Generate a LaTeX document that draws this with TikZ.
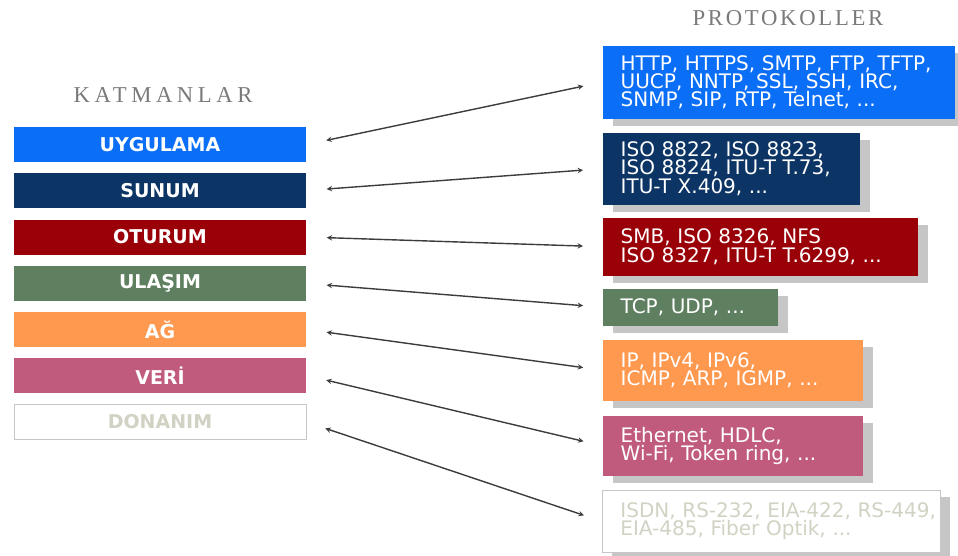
\documentclass[tikz,border=0pt]{standalone}
\usepackage{fontspec}
\setmainfont{Liberation Serif}
\setsansfont{DejaVu Sans}
\usetikzlibrary{shadows}
\definecolor{cuyg}{HTML}{0A6EF7}
\definecolor{csun}{HTML}{0C3565}
\definecolor{cotu}{HTML}{9A0008}
\definecolor{cula}{HTML}{5E8060}
\definecolor{cag}{HTML}{FF9950}
\definecolor{cver}{HTML}{C15B7E}
\definecolor{cdon}{HTML}{D2D2C4}
\definecolor{carrow}{HTML}{3C3C3C}
\definecolor{cshadow}{HTML}{C6C6C6}
\definecolor{ctitle}{HTML}{7A7A7A}
\tikzset{
  layer/.style={minimum width=292pt, minimum height=35pt, inner sep=0pt,
    text=white, font=\sffamily\bfseries\fontsize{19}{21}\selectfont},
  proto/.style={anchor=north west, inner xsep=18pt, inner ysep=0pt,
    text=white, align=left, font=\sffamily\fontsize{20}{18.3}\selectfont,
    drop shadow={shadow xshift=10pt, shadow yshift=-7pt, opacity=1, fill=cshadow}},
  heading/.style={text=ctitle, font=\fontsize{22.7}{24}\selectfont}
}
\begin{document}
\begin{tikzpicture}[x=1pt, y=-1pt, <->, >=stealth, line width=1.4pt]
\useasboundingbox (0,0) rectangle (958,556);
\node[heading] (katman) at (163,95) {\addfontfeatures{LetterSpace=20}KATMANLAR};
\node[heading] (protok) at (788,18) {\addfontfeatures{LetterSpace=12}PROTOKOLLER};
% katmanlar
\node[layer, fill=cuyg] (L1) at (160,144.5) {UYGULAMA};
\node[layer, fill=csun] (L2) at (160,190.5) {SUNUM};
\node[layer, fill=cotu] (L3) at (160,237) {OTURUM};
\node[layer, fill=cula] (L4) at (160,283.5) {ULAŞIM};
\node[layer, fill=cag] (L5) at (160,329.5) {AĞ};
\node[layer, fill=cver] (L6) at (160,375.5) {VERİ};
\node[layer, fill=white, draw=cshadow, line width=0.8pt, text=cdon] (L7) at (160,422) {DONANIM};
% protokoller
\node[proto, fill=cuyg, text width=316pt, minimum height=73pt] (P1) at (602,45)
  {\mbox{HTTP, HTTPS, SMTP, FTP, TFTP,}\\\mbox{UUCP, NNTP, SSL, SSH, IRC,}\\\mbox{SNMP, SIP, RTP, Telnet, ...}};
\node[proto, fill=csun, text width=221pt, minimum height=72pt] (P2) at (602,132)
  {\mbox{ISO 8822, ISO 8823,}\\\mbox{ISO 8824, ITU-T T.73,}\\\mbox{ITU-T X.409, ...}};
\node[proto, fill=cotu, text width=279pt, minimum height=58pt] (P3) at (602,217)
  {\mbox{SMB, ISO 8326, NFS}\\\mbox{ISO 8327, ITU-T T.6299, ...}};
\node[proto, fill=cula, text width=139pt, minimum height=37pt] (P4) at (602,288)
  {\mbox{TCP, UDP, ...}};
\node[proto, fill=cag, text width=224pt, minimum height=61pt] (P5) at (602,339)
  {\mbox{IP, IPv4, IPv6,}\\\mbox{ICMP, ARP, IGMP, ...}};
\node[proto, fill=cver, text width=224pt, minimum height=60pt] (P6) at (602,415)
  {\mbox{Ethernet, HDLC,}\\\mbox{Wi-Fi, Token ring, ...}};
\node[proto, fill=white, draw=cshadow, line width=0.8pt, text=cdon, text width=302pt, minimum height=62pt] (P7) at (602,490)
  {\mbox{ISDN, RS-232, EIA-422, RS-449,}\\\mbox{EIA-485, Fiber Optik, ...}};
% oklar
\draw[carrow, shorten <=20pt, shorten >=19pt] (L1.east) -- (P1.west);
\draw[carrow, shorten <=20pt, shorten >=19pt] (L2.east) -- (P2.west);
\draw[carrow, shorten <=20pt, shorten >=19pt] (L3.east) -- (P3.west);
\draw[carrow, shorten <=20pt, shorten >=19pt] (L4.east) -- (P4.west);
\draw[carrow, shorten <=20pt, shorten >=19pt] (L5.east) -- (P5.west);
\draw[carrow, shorten <=20pt, shorten >=19pt] (L6.east) -- (P6.west);
\draw[carrow, shorten <=20pt, shorten >=19pt] (L7.east) -- (P7.west);
\end{tikzpicture}
\end{document}
